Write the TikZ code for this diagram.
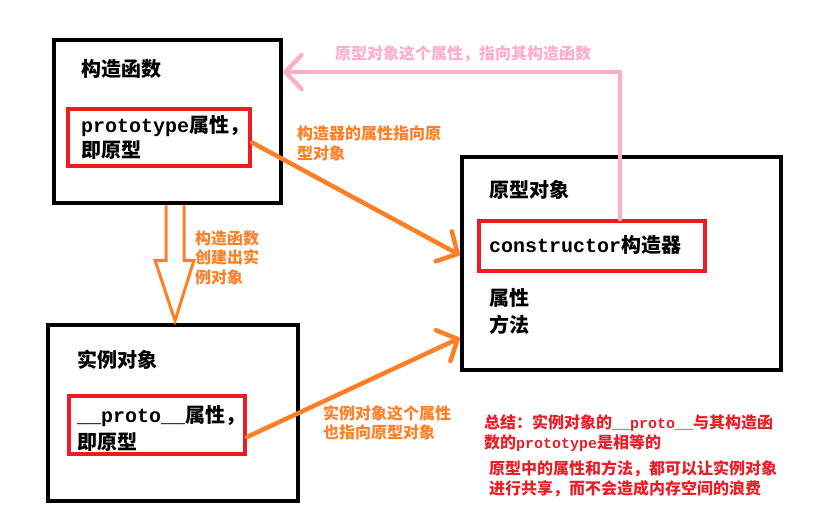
\documentclass[tikz,border=0pt]{standalone}
\usepackage{fontspec}
\setmainfont{Noto Sans CJK SC}
\setmonofont{Liberation Mono}
\usetikzlibrary{arrows.meta,calc}
\definecolor{pbox}{RGB}{237,28,36}
\definecolor{porange}{RGB}{255,127,39}
\definecolor{ppink}{RGB}{255,174,201}
\definecolor{ptext}{RGB}{232,30,40}
\begin{document}
\begin{tikzpicture}[x=1pt,y=-1pt,
  outerbox/.style={draw=black,line width=4.5pt,inner sep=0pt},
  redbox/.style={draw=pbox,line width=4pt,inner sep=0pt},
  bigtxt/.style={anchor=base west,inner sep=0pt,align=left,font=\bfseries\fontsize{20}{25}\selectfont},
  otxt/.style={anchor=base west,inner sep=0pt,align=left,text=porange,font=\bfseries\fontsize{16}{20}\selectfont},
  ptxt/.style={anchor=base west,inner sep=0pt,align=left,text=ppink,font=\bfseries\fontsize{16}{20}\selectfont},
  rtxt/.style={anchor=base west,inner sep=0pt,align=left,text=ptext,font=\bfseries\fontsize{16}{19.5}\selectfont},
  oarrow/.style={draw=porange,line width=4.5pt,line cap=round,-{Straight Barb[length=16pt,width=34pt,round]}},
  parrow/.style={draw=ppink,line width=4.5pt,line cap=round,line join=miter,-{Straight Barb[length=16pt,width=34pt,round]}}
]
\useasboundingbox (0,0) rectangle (823,515);
% boxes
\node[outerbox,minimum width=227pt,minimum height=163pt] (box1) at (167.5,121.5) {};
\node[redbox,minimum width=182pt,minimum height=57pt] (red1) at (159,137.5) {};
\node[outerbox,minimum width=319pt,minimum height=213pt] (box2) at (621.5,263.5) {};
\node[redbox,minimum width=226pt,minimum height=50pt] (red2) at (592,246) {};
\node[outerbox,minimum width=250pt,minimum height=176pt] (box3) at (173,413) {};
\node[redbox,minimum width=176pt,minimum height=58pt] (red3) at (157,425) {};
% texts in boxes (multi-line nodes: base = last line's baseline)
\node[bigtxt] (t1) at (81,76.5) {构造函数};
\node[bigtxt] (p1) at (81,157.5) {\ttfamily prototype\rmfamily 属性，\\即原型};
\node[bigtxt] (t2) at (489,197.5) {原型对象};
\node[bigtxt] (c2) at (489,252.5) {\ttfamily constructor\rmfamily 构造器};
\node[bigtxt,font=\bfseries\fontsize{20}{27}\selectfont] (m2) at (489,332.5) {属性\\方法};
\node[bigtxt] (t3) at (77,367.5) {实例对象};
\node[bigtxt,font=\bfseries\fontsize{20}{27}\selectfont] (p3) at (77,449.5) {\ttfamily \_\_proto\_\_\rmfamily 属性，\\即原型};
% labels
\node[ptxt] (lpink) at (335,59) {原型对象这个属性，指向其构造函数};
\node[otxt] (lo1) at (297,159) {构造器的属性指向原\\型对象};
\node[otxt,font=\bfseries\fontsize{16}{19.5}\selectfont] (lo2) at (195,283) {构造函数\\创建出实\\例对象};
\node[otxt,font=\bfseries\fontsize{16}{19}\selectfont] (lo3) at (323,438) {实例对象这个属性\\也指向原型对象};
\node[rtxt] (s1) at (484,448) {总结：实例对象的{\ttfamily\fontsize{15}{19.5}\selectfont \_\_proto\_\_}与其构造函\\数的{\ttfamily\fontsize{15}{19.5}\selectfont prototype}是相等的};
\node[rtxt,font=\bfseries\fontsize{16}{20}\selectfont] (s2) at (489,494) {原型中的属性和方法，都可以让实例对象\\进行共享，而不会造成内存空间的浪费};
% connectors
\coordinate (pk) at (620,72);
\coordinate (a1) at (460,255);
\coordinate (a2) at (462,338);
\draw[parrow] (red2.north -| pk) |- (box1.east |- pk);
\draw[oarrow] ($(red1.east)+(0,5)$) -- (box2.west |- a1);
\draw[oarrow] ($(red3.east)+(0,12)$) -- (box2.west |- a2);
% hollow block arrow
\draw[porange,line width=3pt,line join=miter]
  ($(box1.south)+(-1.5,0)$) -- ++(0,55) -- ++(-11,0) -- ($(box3.north)+(2,-2)$)
  -- ($(box1.south)+(26.5,55)$) -- ++(-10,0) -- ($(box1.south)+(16.5,0)$);
\end{tikzpicture}
\end{document}
